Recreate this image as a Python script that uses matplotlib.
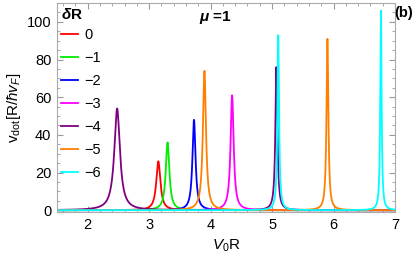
import numpy as np
import matplotlib.pyplot as plt
from matplotlib.ticker import MultipleLocator

plt.rcParams['font.family'] = ['Liberation Sans', 'DejaVu Sans']
plt.rcParams['mathtext.fontset'] = 'custom'
plt.rcParams['mathtext.rm'] = 'Liberation Sans'
plt.rcParams['mathtext.it'] = 'Liberation Sans:italic'
plt.rcParams['mathtext.bf'] = 'Liberation Sans:bold'
plt.rcParams['mathtext.bfit'] = 'Liberation Sans:italic:bold'

# peaks: (centre V0R, height, half width)
labels = ["0", "\u22121", "\u22122", "\u22123", "\u22124", "\u22125", "\u22126"]
colors = ["#ff0000", "#00ee00", "#0000ff", "#ff00ff", "#800080", "#ff8000", "#00ffff"]
centres = [[3.15], [3.30], [3.73], [4.35], [2.48, 5.07], [3.90, 5.90], [5.10, 6.77]]
heights = [[26], [36], [48], [61], [54, 76], [74, 91], [93, 106]]
widths = [[0.04], [0.035], [0.03], [0.03], [0.055, 0.02], [0.03, 0.018], [0.016, 0.013]]

x = np.linspace(1.5, 7.0, 4000)

fig = plt.figure(figsize=(4.15, 2.54), dpi=100)
ax = fig.add_axes([0.137, 0.165, 0.815, 0.823])

for lab, c, cs, hs, ws in zip(labels, colors, centres, heights, widths):
    y = np.zeros_like(x)
    for x0, h, g in zip(cs, hs, ws):
        y += h / (1 + ((x - x0) / g) ** 2)
    ax.plot(x, y, color=c, lw=1.3, label=lab)

ax.set_xlim(1.5, 7.0)
ax.set_ylim(-1, 110)
ax.xaxis.set_major_locator(MultipleLocator(1))
ax.xaxis.set_minor_locator(MultipleLocator(0.2))
ax.yaxis.set_major_locator(MultipleLocator(20))
ax.yaxis.set_minor_locator(MultipleLocator(5))
ax.tick_params(which="both", direction="in", top=True, right=True, color="#999999", labelsize=10.5)
ax.tick_params(which="major", length=4, pad=4)
ax.tick_params(which="minor", length=2)
for s in ax.spines.values():
    s.set_color("#aaaaaa")

ax.set_xlabel("$V_0$R", fontsize=11, labelpad=4)
ax.set_ylabel(r"v$_{\rm dot}$[R/$\hbar v_F$]", fontsize=11, labelpad=3)

leg = ax.legend(title=r"$\mathbfit{\delta}$R", loc="upper left", frameon=False, fontsize=10.5,
                handlelength=1.15, handletextpad=0.45, labelspacing=0.62,
                borderaxespad=0.0, borderpad=0.3, bbox_to_anchor=(0.0, 1.0))
leg.get_title().set_fontweight("bold")
leg.get_title().set_fontsize(11)
leg._legend_box.align = "left"
leg._legend_box.sep = 4

ax.text(0.42, 0.93, r"$\mathbfit{\mu}$ =1", transform=ax.transAxes, fontsize=11,
        fontweight="bold", ha="left", va="center")
fig.text(0.995, 0.95, "(b)", fontsize=10.5, fontweight="bold", ha="right", va="center")

fig.savefig("out.png", dpi=100)
